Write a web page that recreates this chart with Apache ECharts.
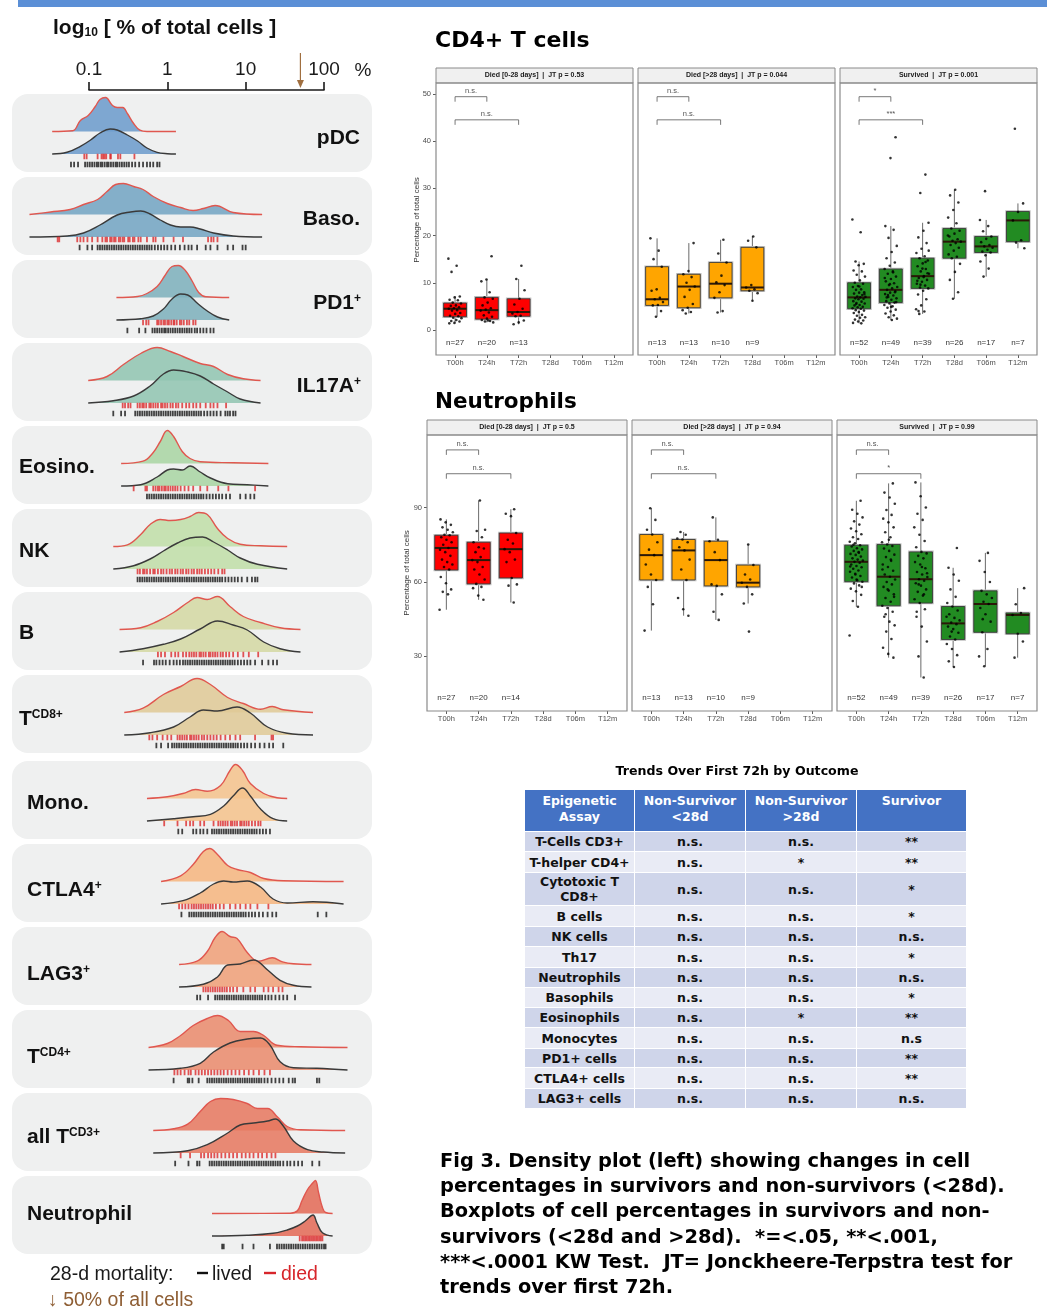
<!DOCTYPE html>
<html>
<head>
<meta charset="utf-8">
<title>Immune cell percentages by 28-day outcome</title>
<script src="https://cdn.jsdelivr.net/npm/echarts@6.0.0/dist/echarts.min.js"></script>
<style>
  html, body { margin:0; padding:0; background:#fff; width:1047px; height:1311px; overflow:hidden; }
  #chart { position:absolute; left:0; top:0; width:1047px; height:1311px; }
  .heading { position:absolute; font-family:"DejaVu Sans", Verdana, sans-serif; font-weight:bold; color:#000; white-space:nowrap; }
  #caption { position:absolute; left:440px; top:1148px; font-family:"DejaVu Sans", Verdana, sans-serif; font-weight:bold;
             font-size:19.4px; line-height:25.2px; color:#000; white-space:pre; }
  #trendTable { position:absolute; left:524px; top:789px; width:442px; border-collapse:collapse; table-layout:fixed;
                font-family:"DejaVu Sans", Verdana, sans-serif; font-weight:bold; font-size:12.5px; }
  #trendTable th { background:#4472c4; color:#fff; height:38px; padding:3px 0 0 0; vertical-align:top; line-height:16px;
                   border:1.5px solid #fff; white-space:pre-line; font-weight:bold; }
  #trendTable td { padding:0; text-align:center; color:#111; line-height:15px; border:1.5px solid #fff; white-space:pre-line; }
</style>
</head>
<body>
<div id="chart"></div>
<div class="heading" style="left:435px; top:27px; font-size:22px;">CD4+ T cells</div>
<div class="heading" style="left:435px; top:388px; font-size:21.5px;">Neutrophils</div>
<div class="heading" style="left:524px; top:763px; width:426px; text-align:center; font-size:12.6px;">Trends Over First 72h by Outcome</div>
<table id="trendTable"></table>
<div id="caption"></div>
<script>
// ---------------- density ridges (x = log10 % of total cells) ----------------
const logTickLabels = ['0.1', '1', '10', '100'];
const HALF_ALL_CELLS = 50;   // % marked by the arrow on the log axis

const ridgeLabels = ['{b|pDC}', '{b|Baso.}', '{b|PD1}{s|+}', '{b|IL17A}{s|+}', '{b|Eosino.}', '{b|NK}', '{b|B}',
  '{b|T}{s|CD8+}', '{b|Mono.}', '{b|CTLA4}{s|+}', '{b|LAG3}{s|+}', '{b|T}{s|CD4+}', '{b|all T}{s|CD3+}', '{b|Neutrophil}'];

const ridgeFill = ['#6b9bcc', '#72a4c3', '#7db0bb', '#90c5b1', '#a9d5a3', '#c0dea8', '#d4d8a3', '#dfca96',
  '#f4c38c', '#f6b67f', '#f09f78', '#ea8a6c', '#e6785f', '#e36a56'];

// density of died patients [log10 %, density]
const ridgeDied = [
  [[-1.47,0],[-1.21,0.7],[-1.11,11],[-1.01,16],[-0.92,25],[-0.86,32],[-0.79,34],[-0.70,26],[-0.64,24],[-0.57,24],[-0.51,18],[-0.43,8],[-0.35,1.3],[-0.26,0],[0.11,0]],
  [[-1.76,0],[-1.49,2.5],[-1.24,5],[-1.07,10],[-0.89,15],[-0.77,23],[-0.66,30],[-0.56,31],[-0.43,28],[-0.31,25],[-0.18,18],[0,11],[0.17,7],[0.33,4],[0.46,6],[0.61,9],[0.84,2],[1.21,0]],
  [[-0.65,0],[-0.38,1],[-0.26,4],[-0.13,11],[-0.03,22],[0.06,31],[0.14,32],[0.23,27],[0.32,16],[0.40,5],[0.49,0.7],[0.79,0]],
  [[-1.01,0],[-0.77,4],[-0.56,16],[-0.34,27],[-0.13,33],[0.04,29],[0.20,24],[0.42,17],[0.59,14],[0.77,6],[0.97,1.7],[1.19,0]],
  [[-0.59,0],[-0.31,2.3],[-0.18,11],[-0.09,22],[0,33],[0.08,27],[0.19,12],[0.29,5],[0.42,1.7],[0.84,0.7],[1.29,0]],
  [[-0.69,0],[-0.51,1.7],[-0.34,12],[-0.22,22],[-0.09,27],[0.04,26],[0.17,27],[0.29,30],[0.40,34],[0.51,32],[0.64,18],[0.77,8],[0.93,2.3],[1.19,0.7],[1.53,0]],
  [[-0.61,0],[-0.34,1.7],[-0.13,8],[0.08,17],[0.26,27],[0.38,32],[0.51,30],[0.64,33],[0.80,23],[0.97,13],[1.19,7],[1.44,1.7],[1.70,0]],
  [[-0.55,0],[-0.31,4.3],[-0.05,18],[0.17,26],[0.38,34],[0.55,28],[0.77,15],[0.97,9],[1.19,3.3],[1.34,6],[1.48,2.7],[1.86,0]],
  [[-0.26,0],[0,1.7],[0.20,5],[0.36,9],[0.51,7.3],[0.68,13],[0.80,28],[0.87,34],[0.96,28],[1.06,15],[1.23,5],[1.40,0.7],[1.53,0]],
  [[-0.08,0],[0.17,5.7],[0.33,17],[0.46,30],[0.54,33],[0.64,27],[0.77,16],[0.89,12],[1.06,9],[1.23,3],[1.48,0.7],[2.25,0]],
  [[0.15,0],[0.38,3.3],[0.51,13],[0.61,27],[0.70,33],[0.80,28],[0.89,26],[1.02,12],[1.16,3.3],[1.34,6.7],[1.47,2.7],[1.61,0.7],[1.84,0]],
  [[-0.24,0],[0,4],[0.17,12],[0.33,22],[0.51,29],[0.64,32],[0.78,27],[0.93,16],[1.10,16],[1.23,12],[1.40,2.3],[1.70,0.7],[2.30,0]],
  [[-0.18,0],[0.08,1.7],[0.26,6.3],[0.42,19],[0.55,29],[0.68,32],[0.84,31],[1.02,27],[1.15,22],[1.28,22],[1.40,14],[1.53,4],[1.70,0.7],[2.27,0]],
  [[0.57,0],[1.57,0.3],[1.66,2.7],[1.72,13],[1.79,24],[1.85,30],[1.89,33],[1.93,21],[1.98,6],[2.02,1],[2.11,0]]
];

// density of patients who lived [log10 %, density]
const ridgeLived = [
  [[-1.47,0],[-1.28,1.7],[-1.11,7.7],[-0.98,14],[-0.86,21],[-0.73,25],[-0.64,24],[-0.51,19],[-0.38,13],[-0.26,6],[-0.13,1.7],[0,0.3],[0.11,0]],
  [[-1.76,0],[-1.28,1],[-1.07,4],[-0.86,12],[-0.64,22],[-0.47,25],[-0.34,26],[-0.22,23],[-0.09,17],[0.04,12],[0.17,10],[0.29,10],[0.42,8],[0.59,4],[0.84,1],[1.21,0]],
  [[-0.65,0],[-0.34,1.3],[-0.18,4],[-0.05,11],[0.06,21],[0.17,26],[0.26,25],[0.38,17],[0.51,9],[0.64,3],[0.79,0]],
  [[-1.01,0],[-0.69,2.3],[-0.43,7],[-0.22,17],[-0.05,29],[0.08,33],[0.26,31],[0.42,27],[0.59,19],[0.77,11],[0.93,4],[1.19,0]],
  [[-0.59,0],[-0.34,1.3],[-0.13,9],[0,16],[0.08,17],[0.19,16],[0.29,20],[0.42,14],[0.55,8],[0.77,2.3],[1.02,1.3],[1.29,0]],
  [[-0.69,0],[-0.43,3.3],[-0.22,10],[-0.05,18],[0.13,26],[0.29,31],[0.45,32],[0.59,27],[0.77,19],[0.93,11],[1.15,4.7],[1.53,0]],
  [[-0.61,0],[-0.31,3.3],[-0.05,7.7],[0.17,13],[0.42,23],[0.64,31],[0.84,27],[1.02,22],[1.23,10],[1.44,3.3],[1.70,0]],
  [[-0.55,0],[-0.22,2.3],[0.08,8],[0.29,18],[0.46,25],[0.64,24],[0.89,28],[1.06,22],[1.28,8],[1.53,1.7],[1.86,0]],
  [[-0.26,0],[0.08,2.3],[0.33,4.3],[0.55,6.7],[0.72,15],[0.84,25],[0.96,33],[1.06,25],[1.19,12],[1.35,2.3],[1.53,0]],
  [[-0.08,0],[0.20,3.3],[0.42,11],[0.59,20],[0.72,23],[0.84,22],[1.02,23],[1.19,17],[1.35,5],[1.53,1],[1.86,2.3],[2.25,0]],
  [[0.15,0],[0.46,2.7],[0.64,10],[0.77,22],[0.93,23],[1.10,27],[1.28,17],[1.44,6.7],[1.61,1.7],[1.84,0]],
  [[-0.24,0],[0.17,1.7],[0.42,6.7],[0.59,18],[0.80,27],[1.02,31],[1.19,32],[1.31,25],[1.44,8.3],[1.61,2.3],[1.91,1.7],[2.30,0]],
  [[-0.18,0],[0.26,2.3],[0.51,8.3],[0.77,20],[0.93,28],[1.10,30],[1.28,32],[1.38,34],[1.48,27],[1.61,12],[1.79,3.3],[1.99,1],[2.27,0]],
  [[0.57,0],[1.02,0.7],[1.35,2.7],[1.53,6],[1.66,10],[1.76,15],[1.86,21],[1.91,13],[1.98,3.3],[2.11,0]]
];

// individual observations (log10 %), died
const rugDied = [
  [-1.06,-1.03,-0.89,-0.84,-0.82,-0.80,-0.78,-0.73,-0.72,-0.63,-0.60,-0.42],
  [-1.40,-1.38,-1.15,-1.11,-1.07,-1.02,-0.96,-0.89,-0.83,-0.79,-0.77,-0.73,-0.71,-0.68,-0.66,-0.62,-0.60,-0.57,-0.55,-0.50,-0.48,-0.44,-0.42,-0.37,-0.34,-0.26,-0.18,-0.15,-0.05,0.08,0.20,0.52,0.56,0.59,0.64],
  [-0.31,-0.27,-0.24,-0.13,-0.11,-0.08,-0.05,-0.03,0.0,0.02,0.05,0.08,0.09,0.12,0.16,0.18,0.21,0.25,0.28,0.33,0.36],
  [-0.57,-0.54,-0.50,-0.47,-0.38,-0.35,-0.32,-0.30,-0.27,-0.23,-0.21,-0.18,-0.15,-0.12,-0.08,-0.06,-0.03,0.0,0.04,0.07,0.11,0.14,0.19,0.24,0.28,0.33,0.37,0.42,0.49,0.55,0.59,0.64,0.75],
  [-0.43,-0.28,-0.26,-0.18,-0.15,-0.12,-0.10,-0.07,-0.04,-0.02,0.01,0.04,0.07,0.10,0.13,0.17,0.22,0.27,0.33,0.42,0.51,0.65,0.78,1.12],
  [-0.38,-0.35,-0.31,-0.29,-0.26,-0.22,-0.18,-0.16,-0.12,-0.08,-0.05,-0.01,0.03,0.06,0.10,0.13,0.17,0.20,0.24,0.27,0.31,0.34,0.38,0.41,0.44,0.48,0.52,0.56,0.60,0.65,0.70,0.73],
  [-0.12,-0.08,-0.03,0.05,0.10,0.14,0.20,0.24,0.28,0.31,0.34,0.37,0.41,0.43,0.46,0.49,0.53,0.55,0.58,0.61,0.64,0.68,0.71,0.75,0.79,0.84,0.90,0.97,1.04,1.16],
  [-0.23,-0.19,-0.13,-0.06,0.0,0.05,0.13,0.16,0.19,0.22,0.25,0.29,0.31,0.34,0.37,0.40,0.44,0.47,0.51,0.55,0.59,0.63,0.68,0.74,0.80,0.87,0.93,1.12,1.33,1.35],
  [-0.04,0.13,0.24,0.29,0.33,0.42,0.47,0.59,0.65,0.68,0.71,0.74,0.77,0.81,0.83,0.86,0.89,0.93,0.95,0.98,1.01,1.04,1.08,1.12,1.16,1.19],
  [0.15,0.19,0.23,0.27,0.31,0.34,0.37,0.40,0.43,0.46,0.49,0.52,0.55,0.58,0.62,0.67,0.72,0.80,0.87,0.93,1.00,1.06,1.15,1.29],
  [0.46,0.49,0.52,0.55,0.58,0.61,0.64,0.67,0.70,0.73,0.76,0.80,0.84,0.89,0.97,1.06,1.12,1.23,1.29,1.35,1.42,1.47],
  [0.09,0.13,0.17,0.22,0.27,0.30,0.36,0.40,0.44,0.48,0.52,0.56,0.60,0.64,0.68,0.72,0.77,0.82,0.87,0.92,0.98,1.04,1.10,1.17,1.24,1.31],
  [0.17,0.29,0.43,0.47,0.52,0.56,0.60,0.64,0.69,0.74,0.79,0.84,0.89,0.95,1.00,1.05,1.10,1.16,1.21,1.27,1.33,1.38],
  [1.69,1.72,1.74,1.76,1.78,1.80,1.82,1.84,1.86,1.88,1.90,1.92,1.94,1.96,1.98]
];

// individual observations (log10 %), lived
const rugLived = [
  [-1.23,-1.19,-1.14,-1.05,-1.02,-0.99,-0.96,-0.93,-0.90,-0.88,-0.85,-0.83,-0.80,-0.77,-0.75,-0.72,-0.69,-0.66,-0.64,-0.61,-0.58,-0.55,-0.52,-0.49,-0.45,-0.41,-0.36,-0.31,-0.26,-0.22,-0.18,-0.13,-0.10],
  [-1.12,-1.02,-0.96,-0.89,-0.86,-0.83,-0.80,-0.77,-0.74,-0.71,-0.68,-0.65,-0.62,-0.59,-0.56,-0.53,-0.50,-0.47,-0.44,-0.41,-0.38,-0.35,-0.32,-0.29,-0.26,-0.23,-0.20,-0.16,-0.12,-0.08,-0.04,0.0,0.05,0.10,0.16,0.22,0.27,0.31,0.38,0.49,0.55,0.64,0.77,0.84,0.96,1.00],
  [-0.51,-0.36,-0.28,-0.19,-0.16,-0.13,-0.10,-0.07,-0.04,-0.02,0.01,0.04,0.07,0.10,0.13,0.16,0.19,0.22,0.25,0.28,0.31,0.35,0.38,0.42,0.46,0.50,0.55,0.59],
  [-0.69,-0.59,-0.54,-0.41,-0.38,-0.35,-0.32,-0.29,-0.26,-0.23,-0.20,-0.17,-0.14,-0.11,-0.08,-0.05,-0.02,0.01,0.04,0.07,0.10,0.13,0.16,0.19,0.22,0.25,0.28,0.31,0.34,0.37,0.40,0.43,0.47,0.51,0.55,0.59,0.63,0.68,0.74,0.77,0.80,0.84,0.87],
  [-0.26,-0.23,-0.20,-0.17,-0.14,-0.11,-0.08,-0.05,-0.02,0.01,0.04,0.07,0.10,0.13,0.16,0.19,0.22,0.25,0.28,0.31,0.34,0.37,0.40,0.43,0.46,0.50,0.54,0.58,0.62,0.66,0.70,0.75,0.80,0.93,1.00,1.06,1.11],
  [-0.38,-0.35,-0.32,-0.29,-0.26,-0.23,-0.20,-0.17,-0.14,-0.11,-0.08,-0.05,-0.02,0.01,0.04,0.07,0.10,0.13,0.16,0.19,0.22,0.25,0.28,0.31,0.34,0.37,0.40,0.43,0.46,0.49,0.52,0.55,0.58,0.61,0.64,0.67,0.70,0.74,0.78,0.82,0.86,0.90,0.95,1.02,1.08,1.12,1.15],
  [-0.31,-0.17,-0.14,-0.10,-0.06,-0.02,0.03,0.08,0.12,0.16,0.20,0.23,0.26,0.29,0.32,0.35,0.38,0.41,0.44,0.47,0.50,0.53,0.56,0.59,0.62,0.65,0.68,0.71,0.74,0.77,0.80,0.83,0.86,0.90,0.94,0.98,1.02,1.06,1.12,1.21,1.29,1.35,1.40],
  [-0.14,-0.08,0.01,0.06,0.09,0.12,0.15,0.18,0.21,0.24,0.27,0.30,0.33,0.36,0.39,0.42,0.45,0.48,0.51,0.54,0.57,0.60,0.63,0.66,0.69,0.72,0.75,0.78,0.81,0.84,0.87,0.90,0.94,0.98,1.02,1.07,1.12,1.18,1.24,1.30,1.35,1.48],
  [0.14,0.19,0.33,0.37,0.42,0.46,0.51,0.57,0.60,0.63,0.66,0.69,0.72,0.75,0.78,0.81,0.84,0.87,0.90,0.93,0.96,0.99,1.02,1.05,1.08,1.11,1.14,1.18,1.22,1.26,1.31],
  [0.18,0.28,0.31,0.34,0.37,0.40,0.43,0.46,0.49,0.52,0.55,0.58,0.61,0.64,0.67,0.70,0.73,0.76,0.79,0.82,0.85,0.88,0.91,0.94,0.97,1.00,1.04,1.08,1.12,1.17,1.22,1.28,1.34,1.39,1.92,2.03],
  [0.38,0.42,0.52,0.61,0.64,0.67,0.70,0.73,0.76,0.79,0.82,0.85,0.88,0.91,0.94,0.97,1.00,1.03,1.06,1.09,1.12,1.15,1.18,1.21,1.25,1.29,1.33,1.38,1.43,1.48,1.53,1.63],
  [0.08,0.26,0.28,0.32,0.40,0.51,0.54,0.57,0.60,0.63,0.66,0.69,0.72,0.75,0.78,0.81,0.84,0.87,0.90,0.93,0.96,0.99,1.02,1.05,1.08,1.11,1.14,1.17,1.20,1.24,1.28,1.33,1.38,1.43,1.48,1.55,1.60,1.63,1.91,1.94],
  [0.10,0.27,0.38,0.41,0.54,0.57,0.60,0.63,0.66,0.69,0.72,0.75,0.78,0.81,0.84,0.87,0.90,0.93,0.96,0.99,1.02,1.05,1.08,1.11,1.14,1.17,1.20,1.23,1.26,1.29,1.32,1.35,1.38,1.41,1.44,1.48,1.53,1.57,1.62,1.67,1.72,1.85,1.94],
  [0.70,0.72,0.96,1.10,1.31,1.40,1.43,1.46,1.49,1.52,1.55,1.58,1.61,1.64,1.67,1.70,1.73,1.76,1.79,1.82,1.85,1.88,1.91,1.94,1.97,2.00,2.02]
];

// ---------------- boxplots (percentage of total cells) ----------------
const timeCats = ['T00h', 'T24h', 'T72h', 'T28d', 'T06m', 'T12m'];
const facetNames = ['Died [0-28 days]', 'Died [>28 days]', 'Survived'];
const facetColors = ['#ff0000', '#ffa500', '#228b22'];

const cd4TrendP = ['0.53', '0.044', '0.001'];
const cd4YTicks = [0, 10, 20, 30, 40, 50];
// [lower whisker, Q1, median, Q3, upper whisker] per time point
const cd4BoxStats = [
  [[1.4, 2.8, 4.5, 5.7, 7.1], [1.6, 2.3, 4.2, 6.9, 10.7], [1.2, 2.9, 3.8, 6.6, 10.8]],
  [[2.8, 5.2, 6.5, 13.4, 19.4], [3.5, 4.7, 9.2, 11.8, 18.4], [3.7, 6.8, 9.8, 14.3, 19.1], [6.2, 8.3, 9.0, 17.5, 19.8]],
  [[1.4, 4.5, 6.9, 10.0, 14.5], [2.1, 5.8, 8.5, 12.9, 22.0], [3.4, 8.8, 11.4, 15.2, 22.7], [6.6, 15.2, 18.7, 21.5, 29.7], [11.3, 16.4, 17.7, 19.8, 23.3], [17.3, 18.7, 23.2, 25.1, 26.8]]
];
const cd4Points = [
  [
    [15.1,13.6,12.3,7.1,6.9,6.4,6.3,5.8,5.6,5.2,5.1,4.8,4.6,4.5,4.2,4.1,3.6,3.4,3.0,2.9,2.6,2.5,2.1,1.9,1.8,1.5,1.4],
    [15.6,10.7,10.3,8.0,6.9,6.6,5.8,5.2,4.6,4.3,4.1,3.7,3.1,2.8,2.4,2.1,1.9,1.8,1.6,2.0],
    [13.6,10.8,8.4,6.6,5.4,4.5,3.8,3.5,3.0,2.9,2.0,1.6,1.2]
  ],
  [
    [19.4,16.8,15.0,13.4,8.6,8.3,6.8,6.5,5.9,5.3,5.2,4.0,2.8],
    [18.4,12.5,11.8,11.2,10.0,9.2,8.5,7.0,5.5,4.7,4.2,3.8,3.5],
    [19.1,16.2,14.3,11.5,10.1,9.5,8.0,6.8,4.0,3.7],
    [19.8,18.9,17.5,9.5,9.0,8.6,8.3,7.8,6.2]
  ],
  [
    [23.4,20.7,14.5,14.0,13.7,12.6,12.4,11.7,11.3,10.5,10.0,9.8,9.3,9.1,8.6,8.5,8.0,7.9,7.7,7.4,7.1,7.0,6.9,6.7,6.6,6.5,6.1,6.0,5.7,5.6,5.3,5.2,4.9,4.8,4.6,4.5,4.2,4.1,3.8,3.6,3.2,3.0,2.7,2.6,2.2,2.0,1.8,1.5,1.4,5.5,7.6,9.2],
    [40.8,36.4,22.0,21.2,19.5,17.8,16.5,15.2,14.3,13.6,12.9,12.4,11.9,11.3,10.8,10.3,9.9,9.5,9.1,8.8,8.5,8.2,7.9,7.6,7.3,7.0,6.7,6.4,6.1,5.8,5.6,5.3,5.0,4.7,4.3,3.9,3.5,3.1,2.7,2.4,2.1,6.9,8.0,9.7,11.0,12.2,7.4,5.9,4.9],
    [32.9,29.0,22.7,21.0,19.6,18.4,17.2,16.3,15.6,15.2,14.7,14.1,13.5,12.9,12.4,11.9,11.4,11.0,10.6,10.2,9.8,9.4,9.0,8.8,8.3,7.5,6.5,5.2,4.4,3.9,3.4,12.0,13.0,10.4,14.4,9.6,16.8,11.2,4.0],
    [29.7,28.5,27.0,25.4,23.8,22.6,21.5,21.0,20.4,19.8,19.2,18.9,18.7,18.4,18.0,17.4,16.8,16.0,15.5,15.2,14.0,12.3,10.6,8.0,6.6,20.0],
    [29.4,23.3,22.0,20.9,19.8,19.3,18.6,18.0,17.7,17.4,17.0,16.6,16.4,15.8,14.5,13.0,11.3],
    [42.6,26.8,25.0,23.2,19.0,18.5,17.3]
  ]
];
// significance brackets: [from time index, to time index, height]
const cd4Brackets = [[[0, 1, 49.4], [0, 2, 44.5]], [[0, 1, 49.4], [0, 2, 44.5]], [[0, 1, 49.4], [0, 2, 44.5]]];
const cd4BracketLabels = [['n.s.', 'n.s.'], ['n.s.', 'n.s.'], ['*', '***']];

const neuTrendP = ['0.5', '0.94', '0.99'];
const neuYTicks = [30, 60, 90];
const neuBoxStats = [
  [[48.8, 64.8, 73.7, 78.8, 85.2], [52.8, 59.2, 68.8, 76.0, 92.8], [51.7, 61.6, 73.2, 79.7, 89.3]],
  [[40.4, 60.8, 70.8, 79.1, 89.7], [46.4, 60.8, 72.7, 77.1, 80.1], [44.7, 58.4, 68.8, 76.4, 86.0], [51.3, 58.0, 59.7, 66.8, 75.1]],
  [[50.0, 60.1, 68.1, 74.8, 92.7], [29.5, 50.4, 62.1, 75.1, 99.7], [21.5, 51.5, 61.1, 72.1, 100.1], [25.7, 36.8, 43.3, 50.1, 65.7], [26.0, 39.7, 51.1, 56.4, 71.7], [29.5, 39.1, 46.7, 47.5, 57.5]]
];
const neuPoints = [
  [
    [48.8,55,56,57,59.5,62,65,66,67,68,69,70.5,72,73,73.7,75,76,77,78,78.8,79,80,81,82,83,84,85.2],
    [52.8,54.5,57.5,58,59.2,61,63,65,66,68,68.8,70,72,73.5,74,76,78,80.5,81,92.8],
    [51.7,58.5,59,61.6,68,69,72,73.2,75.5,77,79.7,86.5,87.5,89.3]
  ],
  [
    [40.4,51,58,60.8,63,67,70.8,73,76,79.1,81,85,89.7],
    [46.4,49,53.5,60.8,65,69,72.7,74,76,77.1,77.5,79,80.1],
    [44.7,48,55,58.4,59,68.8,72,76.4,77,86],
    [40,51.3,55,58,59.7,61,63,66.8,75.1]
  ],
  [
    [38.4,50.0,52.3,54.8,56.2,57.3,58.6,59.4,60.1,60.7,61.8,62.4,63.3,64.1,64.6,65.3,65.9,66.4,67.0,67.7,68.1,68.6,69.0,69.5,70.2,70.9,71.3,71.8,72.5,73.1,73.6,74.3,74.8,75.6,76.2,77.3,78.0,79.2,80.4,81.5,83.1,84.4,86.0,87.5,89.1,92.7,63.0,66.2,72.0,75.0,58.0,61.0],
    [29.5,31,33.5,37,40,42.5,44,46,48,49.5,50.4,52,53.5,55,56.5,58,59,60,61,62.1,63,64.5,66,67,68.5,70,71,72.5,73.5,74.5,75.1,76,78,80,82,84,85.5,87,89,91.5,94,96,99.7,57,65,69,47,54,77],
    [21.5,30,36,42,46,49,51.5,53,54.5,56,57,58.5,59.5,60.5,61.1,62,63,64,65.5,67,68,69.5,70.5,71.5,72.1,74,76.5,79,82,85,87.5,90,94.5,100.1,55,59,63.5,66,48],
    [25.7,28,30.5,33,35,36.8,38,39.5,41,42,43,43.6,44.5,45.5,47,48.5,50.1,51.5,54,57,60.5,63,65.7,73.7,40,46],
    [26,30,33,39.7,44,47,49.5,51.1,52,53.5,55,56.4,60,64,68.5,71.7,45],
    [29.5,36,39.1,46.7,47.5,51,57.5]
  ]
];
const neuBrackets = [[[0, 1, 113.2], [0, 2, 103.6]], [[0, 1, 113.2], [0, 2, 103.6]], [[0, 1, 113.2], [0, 2, 103.6]]];
const neuBracketLabels = [['n.s.', 'n.s.'], ['n.s.', 'n.s.'], ['n.s.', '*']];

// ---------------- table and caption ----------------
const assays = ['T-Cells CD3+', 'T-helper CD4+', 'Cytotoxic T\nCD8+', 'B cells', 'NK cells', 'Th17', 'Neutrophils',
  'Basophils', 'Eosinophils', 'Monocytes', 'PD1+ cells', 'CTLA4+ cells', 'LAG3+ cells'];
const tableHeads = ['Epigenetic\nAssay', 'Non-Survivor\n<28d', 'Non-Survivor\n>28d', 'Survivor'];
const trendNonSurvEarly = ['n.s.', 'n.s.', 'n.s.', 'n.s.', 'n.s.', 'n.s.', 'n.s.', 'n.s.', 'n.s.', 'n.s.', 'n.s.', 'n.s.', 'n.s.'];
const trendNonSurvLate = ['n.s.', '*', 'n.s.', 'n.s.', 'n.s.', 'n.s.', 'n.s.', 'n.s.', '*', 'n.s.', 'n.s.', 'n.s.', 'n.s.'];
const trendSurvivor = ['**', '**', '*', '*', 'n.s.', '*', 'n.s.', '*', '**', 'n.s', '**', '**', 'n.s.'];
const captionLines = [
  'Fig 3. Density plot (left) showing changes in cell',
  'percentages in survivors and non-survivors (<28d).',
  'Boxplots of cell percentages in survivors and non-',
  'survivors (<28d and >28d).  *=<.05, **<.001,',
  '***<.0001 KW Test.  JT= Jonckheere-Terpstra test for',
  'trends over first 72h.'
];

// ======================= layout & drawing =======================
const FONT = '"Liberation Sans", Arial, Helvetica, sans-serif';
const AX_LEFT = 89, AX_W = 235;             // pixel span of the log axis (0.1 % .. 100 %)
const PX_PER_DECADE = AX_W / 3;
const PANEL_X = 12, PANEL_W = 360, PANEL_H = 78;
// ridge grids span the whole rounded panel; their log range follows from the header axis scale
const RIDGE_MIN = -1 - (AX_LEFT - PANEL_X) / PX_PER_DECADE;
const RIDGE_MAX = 2 + (PANEL_X + PANEL_W - AX_LEFT - AX_W) / PX_PER_DECADE;
const panelTop = i => 94 + 83 * i + (i >= 8 ? 3 : 0);
const labelX = [360, 360, 361, 361, 19, 19, 19, 19, 27, 27, 27, 27, 27, 27];
const labelDy = [44, 42, 43, 43, 41, 42, 41, 44, 42, 46, 47, 47, 44, 38];
const DIED_LINE = '#e0574f', LIVED_LINE = '#3a3a3a';

const grids = [], xAxes = [], yAxes = [], series = [], graphics = [];
function addGrid(g, xa, ya) {
  grids.push(g);
  const k = grids.length - 1;
  xa.gridIndex = k; ya.gridIndex = k;
  xAxes.push(xa); yAxes.push(ya);
  return k;
}
const ridgeX = () => ({ type: 'value', min: RIDGE_MIN, max: RIDGE_MAX, show: false });

// top rule
graphics.push({ type: 'rect', shape: { x: 18, y: 0, width: 1029, height: 7 }, style: { fill: '#5b8fd6' }, silent: true });

// log-axis header
graphics.push({ type: 'text', x: 53, y: 28, silent: true, style: {
  text: '{a|log}{s|10}{a| [ % of total cells ]}', verticalAlign: 'middle', textVerticalAlign: 'middle',
  rich: { a: { fontSize: 21, fontWeight: 'bold', fontFamily: FONT, fill: '#111', color: '#111' },
          s: { fontSize: 12, fontWeight: 'bold', fontFamily: FONT, fill: '#111', color: '#111', verticalAlign: 'bottom' } } } });
graphics.push({ type: 'text', x: 363, y: 71, silent: true, style: { text: '%', fontSize: 19, fontFamily: FONT, fill: '#1a1a1a',
  align: 'center', textAlign: 'center', verticalAlign: 'middle', textVerticalAlign: 'middle' } });

const hdr = addGrid({ left: AX_LEFT, width: AX_W, top: 50, height: 40 },
  { type: 'value', min: -1, max: 2, interval: 1, position: 'bottom',
    axisLine: { show: true, onZero: false, lineStyle: { color: '#1a1a1a', width: 1.6 } },
    axisTick: { show: true, inside: true, length: 8, lineStyle: { color: '#1a1a1a', width: 1.6 } },
    axisLabel: { inside: true, margin: 11, fontSize: 19, fontFamily: FONT, color: '#1a1a1a',
                 formatter: v => logTickLabels[Math.round(v) + 1] },
    splitLine: { show: false } },
  { type: 'value', min: 0, max: 40, show: false });

series.push({
  type: 'custom', xAxisIndex: hdr, yAxisIndex: hdr, silent: true, clip: false,
  data: [[Math.log10(HALF_ALL_CELLS), 37, 2]],
  renderItem: (params, api) => {
    const top = api.coord([api.value(0), api.value(1)]);
    const tip = api.coord([api.value(0), api.value(2)]);
    const c = '#a06f40';
    return { type: 'group', children: [
      { type: 'line', shape: { x1: top[0], y1: top[1], x2: tip[0], y2: tip[1] - 5 }, style: { stroke: c, lineWidth: 1.2 } },
      { type: 'polygon', shape: { points: [[tip[0], tip[1]], [tip[0] - 3.5, tip[1] - 8], [tip[0] + 3.5, tip[1] - 8]] }, style: { fill: c } }
    ] };
  }
});

const ridgeRich = {
  b: { fontSize: 21, fontWeight: 'bold', fontFamily: FONT, fill: '#111', color: '#111' },
  s: { fontSize: 12, fontWeight: 'bold', fontFamily: FONT, fill: '#111', color: '#111', verticalAlign: 'top' }
};

ridgeLabels.forEach((lab, i) => {
  const top = panelTop(i);
  graphics.push({ type: 'rect', z: -10, silent: true,
    shape: { x: PANEL_X, y: top, width: PANEL_W, height: PANEL_H, r: 16 }, style: { fill: '#eff0f0' } });
  const rightAligned = i < 4;
  graphics.push({ type: 'text', x: labelX[i], y: top + labelDy[i], silent: true, style: {
    text: lab, rich: ridgeRich,
    align: rightAligned ? 'right' : 'left', textAlign: rightAligned ? 'right' : 'left',
    verticalAlign: 'middle', textVerticalAlign: 'middle' } });

  const gD = addGrid({ left: PANEL_X, width: PANEL_W, top: top + 1.5, height: 36 }, ridgeX(),
    { type: 'value', min: 0, max: 36, show: false });
  const gL = addGrid({ left: PANEL_X, width: PANEL_W, top: top + 24, height: 36 }, ridgeX(),
    { type: 'value', min: 0, max: 36, show: false });
  const gR = addGrid({ left: PANEL_X, width: PANEL_W, top: top + 59, height: 15 }, ridgeX(),
    { type: 'value', min: 0, max: 15, show: false });

  const curve = (g, data, line, z) => ({
    type: 'line', xAxisIndex: g, yAxisIndex: g, data, smooth: 0.4, symbol: 'none', clip: false, silent: true, z,
    lineStyle: { color: line, width: 1.4 },
    areaStyle: { color: ridgeFill[i], opacity: 0.86 }
  });
  series.push(curve(gD, ridgeDied[i], DIED_LINE, 2));
  series.push(curve(gL, ridgeLived[i], LIVED_LINE, 3));

  const rug = (vals, y, color) => ({
    type: 'scatter', xAxisIndex: gR, yAxisIndex: gR, silent: true, clip: false, z: 4,
    symbol: 'rect', symbolSize: [1.8, 5.5], itemStyle: { color },
    data: vals.map(v => [v, y])
  });
  series.push(rug(rugDied[i], 11.5, '#dc2a2c'));
  series.push(rug(rugLived[i], 3.5, '#151515'));
});

// legend below the ridges
graphics.push({ type: 'text', x: 50, y: 1275, silent: true, style: { text: '28-d mortality:', fontSize: 19.5, fontFamily: FONT,
  fill: '#1a1a1a', verticalAlign: 'middle', textVerticalAlign: 'middle' } });
graphics.push({ type: 'line', silent: true, shape: { x1: 197, y1: 1273, x2: 208, y2: 1273 }, style: { stroke: '#111', lineWidth: 2.4 } });
graphics.push({ type: 'text', x: 212, y: 1275, silent: true, style: { text: 'lived', fontSize: 19.5, fontFamily: FONT,
  fill: '#1a1a1a', verticalAlign: 'middle', textVerticalAlign: 'middle' } });
graphics.push({ type: 'line', silent: true, shape: { x1: 264, y1: 1273, x2: 276, y2: 1273 }, style: { stroke: '#d7262b', lineWidth: 2.4 } });
graphics.push({ type: 'text', x: 281, y: 1275, silent: true, style: { text: 'died', fontSize: 19.5, fontFamily: FONT,
  fill: '#d7262b', verticalAlign: 'middle', textVerticalAlign: 'middle' } });
graphics.push({ type: 'text', x: 48, y: 1301, silent: true, style: { text: '\u2193 ' + HALF_ALL_CELLS + '% of all cells', fontSize: 19.5,
  fontFamily: FONT, fill: '#8e5e34', verticalAlign: 'middle', textVerticalAlign: 'middle' } });

// ---------- boxplot panels ----------
const BOX_W = 0.72;
const jitter = (k, idx) => k + (((idx * 0.6180339887) % 1) - 0.5) * 0.42;

const boxRows = [
  { lefts: [436, 638, 840], width: 197, top: 83, height: 272, yMin: -5.3, yMax: 52.3, yTicks: cd4YTicks,
    stats: cd4BoxStats, pts: cd4Points, brackets: cd4Brackets, bracketLabels: cd4BracketLabels, p: cd4TrendP,
    nY: -2.8, titleX: 417, titleY: 220, labelMargin: 5 },
  { lefts: [427, 632, 837], width: 200, top: 435, height: 276, yMin: 8, yMax: 119.2, yTicks: neuYTicks,
    stats: neuBoxStats, pts: neuPoints, brackets: neuBrackets, bracketLabels: neuBracketLabels, p: neuTrendP,
    nY: 13.2, titleX: 407, titleY: 573, labelMargin: 5 }
];

boxRows.forEach(row => {
  graphics.push({ type: 'text', x: row.titleX, y: row.titleY, rotation: Math.PI / 2, silent: true, style: {
    text: 'Percentage of total cells', fontSize: 8, fontFamily: FONT, fill: '#333',
    align: 'center', textAlign: 'center', verticalAlign: 'middle', textVerticalAlign: 'middle' } });

  facetNames.forEach((name, f) => {
    const left = row.lefts[f];
    // strip
    graphics.push({ type: 'rect', silent: true, shape: { x: left, y: row.top - 15, width: row.width, height: 15 },
      style: { fill: '#f0f0f0', stroke: '#8a8a8a', lineWidth: 1 } });
    graphics.push({ type: 'text', x: left + row.width / 2, y: row.top - 7.5, silent: true, style: {
      text: name + '  |  JT p = ' + row.p[f], fontSize: 7, fontWeight: 'bold', fontFamily: FONT, fill: '#1a1a1a',
      align: 'center', textAlign: 'center', verticalAlign: 'middle', textVerticalAlign: 'middle' } });
    // panel frame
    graphics.push({ type: 'rect', silent: true, z: 10, shape: { x: left, y: row.top, width: row.width, height: row.height },
      style: { fill: 'none', stroke: '#8a8a8a', lineWidth: 1.2 } });

    const g = addGrid({ left, top: row.top, width: row.width, height: row.height },
      { type: 'value', min: -0.6, max: 5.6,
        axisLine: { show: false, onZero: false }, splitLine: { show: false },
        axisTick: { show: true, length: 3, customValues: [0, 1, 2, 3, 4, 5], lineStyle: { color: '#333', width: 0.8 } },
        axisLabel: { show: true, customValues: [0, 1, 2, 3, 4, 5], margin: 4, fontSize: 7.5, fontFamily: FONT, color: '#4d4d4d',
                     formatter: v => timeCats[Math.round(v)] } },
      { type: 'value', min: row.yMin, max: row.yMax,
        axisLine: { show: false, onZero: false }, splitLine: { show: false },
        axisTick: { show: f === 0, length: 3, customValues: row.yTicks, lineStyle: { color: '#333', width: 0.8 } },
        axisLabel: { show: f === 0, customValues: row.yTicks, margin: row.labelMargin, fontSize: 7.5, fontFamily: FONT, color: '#4d4d4d' } });

    const color = facetColors[f];
    const stats = row.stats[f];
    series.push({
      type: 'custom', xAxisIndex: g, yAxisIndex: g, silent: true, z: 2,
      data: stats.map((s, k) => [k].concat(s)),
      encode: { x: 0, y: [1, 2, 3, 4, 5] },
      renderItem: (params, api) => {
        const x = api.value(0);
        const lo = api.coord([x, api.value(1)]), q1 = api.coord([x, api.value(2)]), md = api.coord([x, api.value(3)]);
        const q3 = api.coord([x, api.value(4)]), hi = api.coord([x, api.value(5)]);
        const hw = api.size([BOX_W, 0])[0] / 2;
        const cx = md[0];
        return { type: 'group', children: [
          { type: 'line', shape: { x1: cx, y1: hi[1], x2: cx, y2: q3[1] }, style: { stroke: '#444', lineWidth: 0.8 } },
          { type: 'line', shape: { x1: cx, y1: q1[1], x2: cx, y2: lo[1] }, style: { stroke: '#444', lineWidth: 0.8 } },
          { type: 'rect', shape: { x: cx - hw, y: q3[1], width: 2 * hw, height: q1[1] - q3[1] },
            style: { fill: color, stroke: '#c4c4c4', lineWidth: 2.6 } },
          { type: 'rect', shape: { x: cx - hw, y: q3[1], width: 2 * hw, height: q1[1] - q3[1] },
            style: { fill: color, stroke: '#3a3a3a', lineWidth: 0.9 } },
          { type: 'line', shape: { x1: cx - hw, y1: md[1], x2: cx + hw, y2: md[1] }, style: { stroke: '#2a1808', lineWidth: 2 } }
        ] };
      }
    });

    const pts = [];
    row.pts[f].forEach((vals, k) => vals.forEach((v, idx) => pts.push([jitter(k, idx + 3 * k), v])));
    series.push({ type: 'scatter', xAxisIndex: g, yAxisIndex: g, silent: true, z: 3,
      symbol: 'circle', symbolSize: 2.6, itemStyle: { color: '#000' }, data: pts });

    // sample sizes
    const counts = row.pts[f].map(v => v.length);
    series.push({ type: 'custom', xAxisIndex: g, yAxisIndex: g, silent: true, z: 3,
      data: counts.map((c, k) => [k, row.nY]),
      renderItem: (params, api) => {
        const p = api.coord([api.value(0), api.value(1)]);
        return { type: 'text', x: p[0], y: p[1], style: { text: 'n=' + counts[params.dataIndex], fontSize: 8, fontFamily: FONT,
          fill: '#333', align: 'center', textAlign: 'center', verticalAlign: 'middle', textVerticalAlign: 'middle' } };
      } });

    // significance brackets
    const labels = row.bracketLabels[f];
    series.push({ type: 'custom', xAxisIndex: g, yAxisIndex: g, silent: true, z: 3,
      data: row.brackets[f],
      renderItem: (params, api) => {
        const a = api.coord([api.value(0), api.value(2)]);
        const b = api.coord([api.value(1), api.value(2)]);
        const drop = 5;
        return { type: 'group', children: [
          { type: 'polyline', shape: { points: [[a[0], a[1] + drop], [a[0], a[1]], [b[0], a[1]], [b[0], a[1] + drop]] },
            style: { stroke: '#555', lineWidth: 0.8, fill: 'none' } },
          { type: 'text', x: (a[0] + b[0]) / 2, y: a[1] - 1.5, style: { text: labels[params.dataIndex], fontSize: 7.5, fontFamily: FONT,
            fill: '#555', align: 'center', textAlign: 'center', verticalAlign: 'bottom', textVerticalAlign: 'bottom' } }
        ] };
      } });
  });
});

const chart = echarts.init(document.getElementById('chart'), null, { renderer: 'canvas' });
chart.setOption({
  animation: false,
  backgroundColor: '#ffffff',
  textStyle: { fontFamily: FONT },
  grid: grids,
  xAxis: xAxes,
  yAxis: yAxes,
  series: series,
  graphic: { elements: graphics }
});

// ---------- significance table ----------
const rowHeights = [20, 21, 33, 21, 20, 21, 20, 20, 20, 21, 19, 21, 20];
const colWidths = [110, 111, 111, 110];
const table = document.getElementById('trendTable');
const colgroup = document.createElement('colgroup');
colWidths.forEach(w => { const c = document.createElement('col'); c.style.width = w + 'px'; colgroup.appendChild(c); });
table.appendChild(colgroup);
const headRow = document.createElement('tr');
tableHeads.forEach(h => { const th = document.createElement('th'); th.textContent = h; headRow.appendChild(th); });
table.appendChild(headRow);
assays.forEach((a, r) => {
  const tr = document.createElement('tr');
  tr.style.height = rowHeights[r] + 'px';
  tr.style.background = r % 2 === 0 ? '#cfd5ea' : '#e9ebf5';
  [a, trendNonSurvEarly[r], trendNonSurvLate[r], trendSurvivor[r]].forEach(t => {
    const td = document.createElement('td'); td.textContent = t; tr.appendChild(td);
  });
  table.appendChild(tr);
});

document.getElementById('caption').textContent = captionLines.join('\n');
</script>
</body>
</html>
